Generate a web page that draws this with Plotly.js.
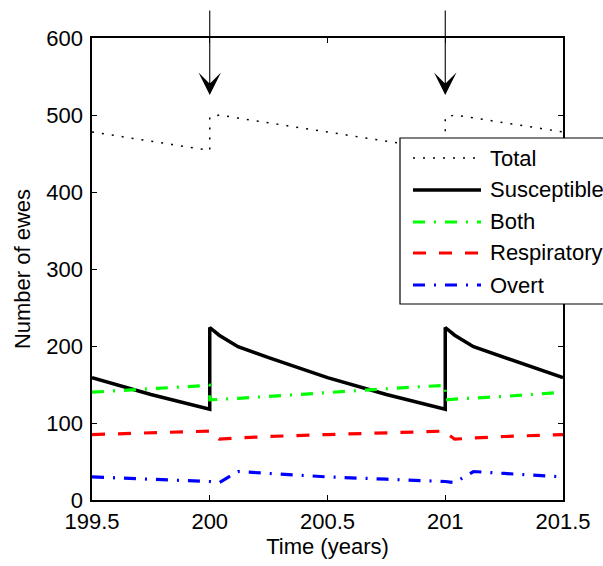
<!DOCTYPE html>
<html>
<head>
<meta charset="utf-8">
<script src="https://cdn.plot.ly/plotly-3.0.1.min.js"></script>
<style>html,body{margin:0;padding:0;background:#fff;}#chart{width:603px;height:566px;}</style>
</head>
<body>
<div id="chart"></div>
<script>
// Time points (years); the repeated 200 and 201 carry the jump at each event
const time = [199.5, 199.75, 200, 200, 200.04, 200.12, 200.25, 200.5, 200.75, 201, 201, 201.04, 201.12, 201.25, 201.5];
const total       = [478, 466, 454, 497, 500, 496, 490, 478, 466, 454, 497, 500, 496, 490, 478];
const susceptible = [159, 137, 118, 224, 214, 199, 185, 159, 137, 118, 224, 214, 199, 185, 159];
const both        = [140, 144.5, 149, 130, 131, 132, 134.5, 140, 144.5, 149, 130, 131, 132, 134.5, 140];
const respiratory = [85, 87.5, 89.5, 88, 79, 80.5, 82.5, 85, 87.5, 89.5, 88, 79, 80.5, 82.5, 85];
const overt       = [30, 27, 24.5, 24, 22.5, 37, 34.5, 30, 27, 24.5, 24, 22.5, 37, 34.5, 30];

const seriesNames = ['Total', 'Susceptible', 'Both', 'Respiratory', 'Overt'];
const eventTimes = [200, 201];
const xTicks = [199.5, 200, 200.5, 201, 201.5];
const xTickText = ['199.5', '200', '200.5', '201', '201.5'];
const yTicks = [0, 100, 200, 300, 400, 500, 600];

const styles = [
  {color: '#000000', width: 1.5, dash: '2px,8px'},
  {color: '#000000', width: 3.5, dash: 'solid'},
  {color: '#00ff00', width: 3.2, dash: '12px,9px,2px,9px'},
  {color: '#ff0000', width: 3.2, dash: '13px,13px'},
  {color: '#0000ff', width: 3.2, dash: '12px,9px,2px,9px'}
];
const values = [total, susceptible, both, respiratory, overt];

const traces = values.map((v, i) => ({
  x: time, y: v, type: 'scatter', mode: 'lines', name: seriesNames[i],
  line: {color: styles[i].color, width: styles[i].width, dash: styles[i].dash},
  showlegend: false, hoverinfo: 'skip'
}));

// plot area in pixels
const L = 92, T = 38, W = 471, H = 462;
const px = p => (p - L) / W;
const py = p => (T + H - p) / H;

const font = '"Liberation Sans", Arial, sans-serif';
const shapes = [{
  type: 'rect', xref: 'paper', yref: 'paper', layer: 'above',
  x0: px(400), x1: px(660), y0: py(304), y1: py(138),
  fillcolor: '#ffffff', line: {color: '#000000', width: 1.2}
}];
const annotations = [];
const rowY = [158, 190, 222, 253, 285];
seriesNames.forEach((n, i) => {
  shapes.push({
    type: 'line', xref: 'paper', yref: 'paper', layer: 'above',
    x0: px(413), x1: px(481), y0: py(rowY[i]), y1: py(rowY[i]),
    line: {color: styles[i].color, width: styles[i].width, dash: styles[i].dash}
  });
  annotations.push({
    xref: 'paper', yref: 'paper', x: px(488), y: py(rowY[i]),
    xanchor: 'left', yanchor: 'middle', text: n, showarrow: false,
    font: {family: font, size: 22, color: '#000'}
  });
});
eventTimes.forEach(t => {
  annotations.push({
    x: t, y: 526, xref: 'x', yref: 'y', text: '', showarrow: true,
    ax: 0, ay: -86, arrowhead: 3, arrowsize: 3.4, arrowwidth: 1.1, arrowcolor: '#000'
  });
});

const axisCommon = {
  showline: true, linecolor: '#000', linewidth: 1.6, mirror: 'ticks',
  ticks: 'inside', ticklen: 5, tickwidth: 1, tickcolor: '#000',
  showgrid: false, zeroline: false, fixedrange: true,
  tickfont: {family: font, size: 22, color: '#000'}
};

const layout = {
  width: 603, height: 566,
  margin: {l: L, r: 603 - L - W, t: T, b: 566 - T - H},
  paper_bgcolor: '#fff', plot_bgcolor: '#fff',
  showlegend: false, hovermode: false,
  xaxis: Object.assign({}, axisCommon, {
    range: [199.5, 201.5], tickvals: xTicks, ticktext: xTickText,
    title: {text: 'Time (years)', font: {family: font, size: 22, color: '#000'}, standoff: 2},
    automargin: false, ticklabelstandoff: 1
  }),
  yaxis: Object.assign({}, axisCommon, {
    range: [0, 600], tickvals: yTicks,
    title: {text: 'Number of ewes', font: {family: font, size: 22, color: '#000'}, standoff: 9},
    automargin: false, ticklabelstandoff: 3
  }),
  shapes: shapes,
  annotations: annotations
};

Plotly.newPlot('chart', traces, layout, {displayModeBar: false, staticPlot: true});
</script>
</body>
</html>
